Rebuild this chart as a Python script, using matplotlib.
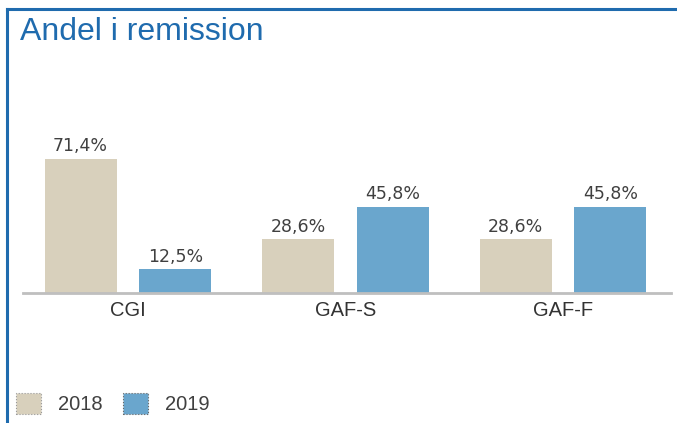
import numpy as np
import matplotlib
matplotlib.use("Agg")
import matplotlib.pyplot as plt
from matplotlib.lines import Line2D
from matplotlib.patches import Patch

#-----------------------------------------------------------------------------------------
# Data
categories = ["CGI", "GAF-S", "GAF-F"]
years = ["2018", "2019"]
values_2018 = [71.4, 28.6, 28.6]
values_2019 = [12.5, 45.8, 45.8]
title = "Andel i remission"

c_2018 = "#D8D0BC"
c_2019 = "#6AA6CD"
c_frame = "#1F6BAE"
c_text = "#404040"

#-----------------------------------------------------------------------------------------
fig = plt.figure(figsize=(6.77, 4.23), dpi=100)
ax = fig.add_axes([23 / 677, 130.5 / 423, 648 / 677, 192.5 / 423])

x = np.arange(len(categories))
w = 0.331
off = 0.218
b1 = ax.bar(x - off, values_2018, w, color=c_2018, label=years[0])
b2 = ax.bar(x + off, values_2019, w, color=c_2019, label=years[1])

fmt = lambda v: f"{v:.1f}".replace(".", ",") + "%"
for bars, vals in [(b1, values_2018), (b2, values_2019)]:
    ax.bar_label(bars, labels=[fmt(v) for v in vals], padding=2.5,
                 fontsize=12.5, color=c_text, family="DejaVu Sans")

ax.set_xlim(-0.483, 2.497)
ax.set_ylim(0, 102.9)
ax.set_xticks(x)
ax.set_xticklabels(categories, fontsize=14.5, color="#333333", family="Liberation Sans")
ax.tick_params(axis="x", length=0, pad=6)
ax.set_yticks([])
for s in ["top", "right", "left"]:
    ax.spines[s].set_visible(False)
ax.spines["bottom"].set_color("#BFBFBF")
ax.spines["bottom"].set_linewidth(2)

# Title and frame
fig.text(20 / 677, 1 - 32 / 423, title, fontsize=23, color=c_frame,
         family="Liberation Sans", va="center", ha="left")
fig.add_artist(Line2D([7 / 677, 1], [1 - 9 / 423, 1 - 9 / 423], color=c_frame, lw=2.2))
fig.add_artist(Line2D([7 / 677, 7 / 677], [0, 1 - 9 / 423], color=c_frame, lw=2.2))

# Legend
handles = [Patch(facecolor=c_2018, edgecolor="#999999", linestyle=":", linewidth=0.8),
           Patch(facecolor=c_2019, edgecolor="#666666", linestyle=":", linewidth=0.8)]
leg = fig.legend(handles, years, loc="lower left", bbox_to_anchor=(16 / 677, 9 / 423),
                 ncol=2, frameon=False, handlelength=1.25, handleheight=1.25,
                 handletextpad=0.85, columnspacing=1.0, borderpad=0, borderaxespad=0,
                 prop={"family": "Liberation Sans", "size": 14.5})
for t in leg.get_texts():
    t.set_color(c_text)

fig.savefig("out.png", dpi=100)
